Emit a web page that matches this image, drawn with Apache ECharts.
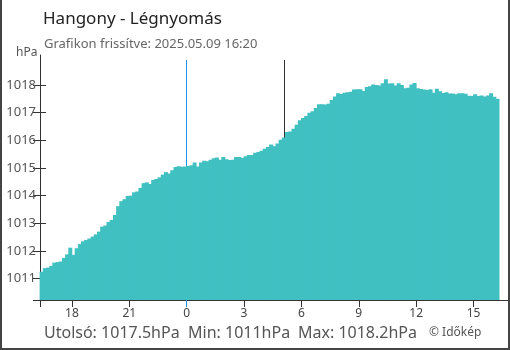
<!doctype html>
<html>
<head>
<meta charset="UTF-8">
<title>Hangony - Légnyomás</title>
<script src="https://cdn.jsdelivr.net/npm/echarts@6/dist/echarts.min.js"></script>
<style>
  html, body { margin: 0; padding: 0; background: #fff; }
  #wrap { position: relative; width: 510px; height: 350px; }
  #main { position: absolute; left: 0; top: 0; width: 510px; height: 350px; }
  #frame { position: absolute; left: 0; top: 0; width: 510px; height: 350px; box-sizing: border-box;
           border: 2px solid #444; border-top: none; pointer-events: none; }
</style>
</head>
<body>
<div id="wrap">
  <div id="main"></div>
  <div id="frame"></div>
</div>
<script type="text/javascript">
// adatok: 10 perces lépés, 2025.05.08 16:20-tól
var startHour = -7 - 40 / 60;   // 16:20 előző nap, éjfélhez képest órában
var stepMinutes = 10;
var pressure = [
  1011.25, 1011.38, 1011.4, 1011.46, 1011.58, 1011.6, 1011.62, 1011.75, 1011.88, 1012.12,
  1011.86, 1012.1, 1012.25, 1012.35, 1012.4, 1012.45, 1012.52, 1012.6, 1012.7, 1012.88,
  1012.92, 1013.05, 1013.12, 1013.3, 1013.62, 1013.8, 1013.87, 1013.99, 1014.0, 1014.12,
  1014.15, 1014.28, 1014.45, 1014.48, 1014.42, 1014.57, 1014.6, 1014.66, 1014.76, 1014.85,
  1014.8, 1014.92, 1015.03, 1015.06, 1015.04, 1015.05, 1015.07, 1015.1, 1015.2, 1015.05,
  1015.2, 1015.26, 1015.24, 1015.3, 1015.35, 1015.38, 1015.3, 1015.4, 1015.31, 1015.29,
  1015.3, 1015.4, 1015.4, 1015.36, 1015.42, 1015.47, 1015.47, 1015.55, 1015.58, 1015.62,
  1015.69, 1015.76, 1015.85, 1015.78, 1015.88, 1016.02, 1016.1, 1016.3, 1016.32, 1016.42,
  1016.56, 1016.72, 1016.8, 1016.88, 1016.99, 1017.05, 1017.17, 1017.3, 1017.3, 1017.29,
  1017.32, 1017.45, 1017.58, 1017.7, 1017.67, 1017.72, 1017.73, 1017.75, 1017.83, 1017.84,
  1017.84, 1017.78, 1017.92, 1017.95, 1018.01, 1018.0, 1017.98, 1018.06, 1018.2, 1018.05,
  1018.06, 1017.98, 1018.06, 1018.0, 1017.88, 1017.9, 1018.01, 1018.07, 1017.88, 1017.85,
  1017.83, 1017.82, 1017.84, 1017.72, 1017.86, 1017.77, 1017.71, 1017.73, 1017.69, 1017.69,
  1017.66, 1017.7, 1017.7, 1017.68, 1017.61, 1017.6, 1017.66, 1017.6, 1017.62, 1017.58,
  1017.62, 1017.7, 1017.57, 1017.5
];
var xTickHours = [-6, -3, 0, 3, 6, 9, 12, 15];
var yTicks = [1011, 1012, 1013, 1014, 1015, 1016, 1017, 1018];
var midnightHour = 0;
var sunriseHour = 5 + 7 / 60;
var statsTexts = ['Utolsó: 1017.5hPa', 'Min: 1011hPa', 'Max: 1018.2hPa'];
var statsLeft = [39, 183, 293];

var yMin = 1010.23, yMax = 1019.08;
var xMin = startHour, xMax = 16.8;

var barData = pressure.map(function (v, i) {
    return [startHour + (i + 0.5) * stepMinutes / 60, v];
});

var font = '"Noto Sans", "Open Sans", sans-serif';
var myChart = echarts.init(document.getElementById('main'), null, { renderer: 'canvas' });

var titles = [
    { text: 'Hangony - Légnyomás', left: 38, top: 6,
      textStyle: { fontFamily: font, fontSize: 17, fontWeight: 'normal', color: '#222' } },
    { text: 'Grafikon frissítve: 2025.05.09 16:20', left: 39, top: 33,
      textStyle: { fontFamily: font, fontSize: 13, fontWeight: 'normal', color: '#666' } },
    { text: 'hPa', left: 11, top: 42,
      textStyle: { fontFamily: font, fontSize: 12, fontWeight: 'normal', color: '#555' } },
    { text: '© Időkép', left: 424, top: 322,
      textStyle: { fontFamily: font, fontSize: 12, fontWeight: 'normal', color: '#555' } }
];
statsTexts.forEach(function (t, i) {
    titles.push({ text: t, left: statsLeft[i], top: 320,
                  textStyle: { fontFamily: font, fontSize: 16, fontWeight: 'normal', color: '#555' } });
});

var option = {
    animation: false,
    textStyle: { fontFamily: font },
    title: titles,
    grid: { left: 40, right: 2, top: 55, bottom: 50, containLabel: false },
    xAxis: [{
        type: 'value', min: xMin, max: xMax,
        splitLine: { show: false },
        axisLine: { onZero: false, lineStyle: { color: '#333', width: 1 } },
        axisTick: { customValues: [xMin, -6, -3, 3, 6, 9, 12, 15], length: 7, lineStyle: { color: '#333' } },
        axisLabel: {
            customValues: xTickHours, color: '#444', fontSize: 12, margin: 8, fontFamily: font,
            formatter: function (v) { return String((Math.round(v) + 24) % 24); }
        }
    }, {
        type: 'value', min: xMin, max: xMax, position: 'bottom',
        splitLine: { show: false },
        axisLine: { show: false, onZero: false },
        axisLabel: { show: false },
        axisTick: { show: true, customValues: [midnightHour], length: 7, lineStyle: { color: '#1e90e6' } }
    }],
    yAxis: [{
        type: 'value', min: yMin, max: yMax, position: 'left',
        splitLine: { show: false },
        axisLine: { show: true, onZero: false, lineStyle: { color: '#333', width: 1 } },
        axisTick: { show: true, customValues: [yMin].concat(yTicks), length: 7, lineStyle: { color: '#333' } },
        axisLabel: { customValues: yTicks, color: '#555', fontSize: 13, margin: 4, fontFamily: font,
                     formatter: function (v) { return String(v); } }
    }, {
        type: 'value', min: yMin, max: yMax, position: 'left',
        splitLine: { show: false },
        axisLine: { show: false, onZero: false },
        axisLabel: { show: false },
        axisTick: { show: true, inside: true, customValues: yTicks, length: 6, lineStyle: { color: '#333' } }
    }],
    series: [{
        type: 'line', data: [], z: 1, silent: true,
        markLine: {
            z: 1, symbol: 'none', silent: true, label: { show: false },
            data: [
                [{ coord: [midnightHour, 1018.9], lineStyle: { color: '#1e90e6', width: 1, type: 'solid' } },
                 { coord: [midnightHour, yMin] }],
                [{ coord: [sunriseHour, 1018.9], lineStyle: { color: '#333', width: 1, type: 'solid' } },
                 { coord: [sunriseHour, yMin] }]
            ]
        }
    }, {
        name: 'Légnyomás', type: 'bar', data: barData, z: 10,
        barWidth: 4,
        itemStyle: { color: '#41c0c2' }
    }]
};

myChart.setOption(option);
</script>
</body>
</html>
